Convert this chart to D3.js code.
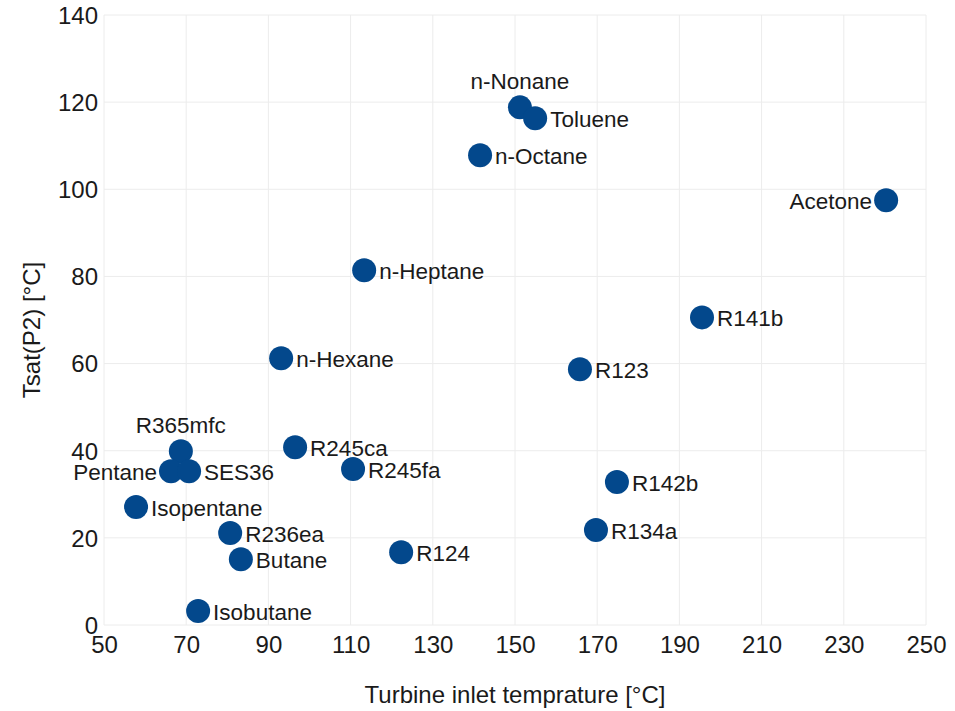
<!DOCTYPE html>
<html>
<head>
<meta charset="utf-8">
<script src="https://cdn.jsdelivr.net/npm/d3@7"></script>
<style>
  html, body { margin: 0; padding: 0; background: #fff; }
  svg text { font-family: "Liberation Sans", Arial, sans-serif; fill: #1a1a1a; }
</style>
</head>
<body>
<svg id="chart" width="955" height="711"></svg>
<script>
// Working fluids: turbine inlet temperature vs. saturation temperature at P2
const fluids = ["n-Nonane","Toluene","n-Octane","Acetone","n-Heptane","R141b","n-Hexane","R123",
  "R365mfc","R245ca","Pentane","SES36","R245fa","Isopentane","R142b","R236ea","R134a","Butane","R124","Isobutane"];
const inletTemp = [151.2,154.9,141.5,240.3,113.3,195.5,93.1,165.8,
  68.7,96.5,66.3,70.7,110.6,57.8,174.8,80.7,169.7,83.3,122.3,72.9];
const tsatP2 = [118.8,116.3,107.8,97.5,81.4,70.6,61.2,58.7,
  39.9,40.8,35.3,35.3,35.8,27.1,32.8,21.1,21.8,15.1,16.7,3.2];
// label placement relative to the marker
const labelSide = ["top","right","right","left","right","right","right","right",
  "top","right","left","right","right","right","right","right","right","right","right","right"];

const xTicks = [50,70,90,110,130,150,170,190,210,230,250];
const yTicks = [0,20,40,60,80,100,120,140];

const svg = d3.select("#chart");
const margin = {left: 104, right: 29, top: 15, bottom: 86};
const W = 955, H = 711;

const x = d3.scaleLinear().domain([50, 250]).range([margin.left, W - margin.right]);
const y = d3.scaleLinear().domain([0, 140]).range([H - margin.bottom, margin.top]);

// grid
svg.append("g").selectAll("line").data(xTicks).join("line")
  .attr("x1", d => x(d)).attr("x2", d => x(d))
  .attr("y1", y(0)).attr("y2", y(140))
  .attr("stroke", "#ececec").attr("stroke-width", 1);
svg.append("g").selectAll("line").data(yTicks).join("line")
  .attr("x1", x(50)).attr("x2", x(250))
  .attr("y1", d => y(d)).attr("y2", d => y(d))
  .attr("stroke", "#ececec").attr("stroke-width", 1);

// axes (labels only)
const xAxis = svg.append("g").attr("transform", `translate(0,${y(0)})`)
  .call(d3.axisBottom(x).tickValues(xTicks).tickSize(0).tickPadding(11));
const yAxis = svg.append("g").attr("transform", `translate(${x(50)},0)`)
  .call(d3.axisLeft(y).tickValues(yTicks).tickSize(0).tickPadding(6));
[xAxis, yAxis].forEach(a => {
  a.select(".domain").remove();
  a.selectAll("text").attr("font-size", 24).attr("fill", "#1a1a1a");
});
yAxis.selectAll("text").attr("dy", "0.35em");

// axis titles
svg.append("text")
  .attr("x", (x(50) + x(250)) / 2).attr("y", 703)
  .attr("text-anchor", "middle").attr("font-size", 24)
  .text("Turbine inlet temprature [°C]");
svg.append("text")
  .attr("transform", `translate(40,${(y(0) + y(140)) / 2 + 10}) rotate(-90)`)
  .attr("text-anchor", "middle").attr("font-size", 24)
  .text("Tsat(P2) [°C]");

// markers
const idx = d3.range(fluids.length);
svg.append("g").selectAll("circle").data(idx).join("circle")
  .attr("cx", i => x(inletTemp[i])).attr("cy", i => y(tsatP2[i]))
  .attr("r", 12)
  .attr("fill", "#03488c");

// labels
svg.append("g").selectAll("text").data(idx).join("text")
  .attr("font-size", 22.5)
  .attr("x", i => {
    const cx = x(inletTemp[i]);
    if (labelSide[i] === "right") return cx + 15;
    if (labelSide[i] === "left") return cx - 14;
    return cx;
  })
  .attr("y", i => labelSide[i] === "top" ? y(tsatP2[i]) - 26 : y(tsatP2[i]) + 1)
  .attr("dy", "0.35em")
  .attr("text-anchor", i => labelSide[i] === "right" ? "start" : labelSide[i] === "left" ? "end" : "middle")
  .text(i => fluids[i]);
</script>
</body>
</html>
